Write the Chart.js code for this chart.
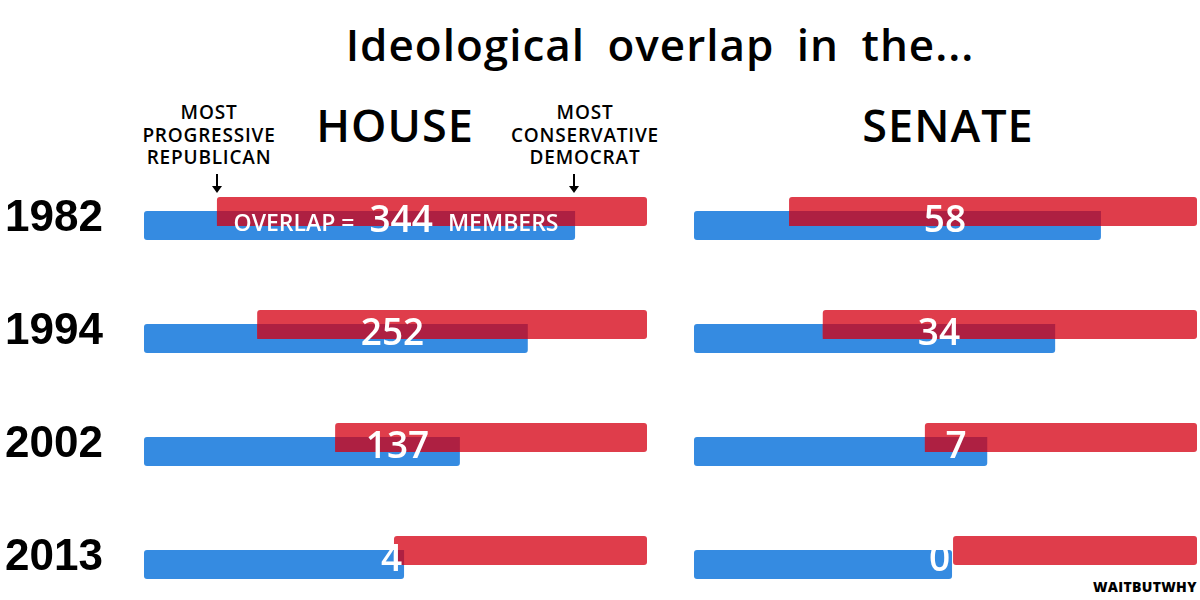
<!DOCTYPE html>
<html>
<head>
<meta charset="utf-8">
<script src="https://cdn.jsdelivr.net/npm/chart.js@4.4.1/dist/chart.umd.min.js"></script>
<style>
  html, body { margin: 0; padding: 0; background: #fff; overflow: hidden; }
  body { width: 1200px; height: 600px; position: relative; font-family: "Open Sans", sans-serif; color: #000; }
  canvas { position: absolute; top: 0; }
  .txt { position: absolute; white-space: nowrap; text-align: center; }
  #title { left: 0; width: 1320px; top: 14px; font-size: 44px; font-weight: 600; word-spacing: 10px; letter-spacing: 1px; }
  .panel { top: 94px; font-size: 45px; font-weight: 600; letter-spacing: 1px; }
  .note { font-size: 19px; line-height: 22.5px; font-weight: 600; letter-spacing: 0.8px; top: 101px; }
  #credit { left: 1093px; top: 577px; font-size: 14px; font-weight: 800; letter-spacing: 0.3px; }
  svg { position: absolute; left: 0; top: 0; }
</style>
</head>
<body>
<div class="txt" id="title">Ideological overlap in the...</div>
<div class="txt panel" style="left:295px;width:200px;">HOUSE</div>
<div class="txt panel" style="left:848px;width:200px;">SENATE</div>
<div class="txt note" style="left:109px;width:200px;">MOST<br>PROGRESSIVE<br>REPUBLICAN</div>
<div class="txt note" style="left:485px;width:200px;">MOST<br>CONSERVATIVE<br>DEMOCRAT</div>
<div class="txt" id="credit">WAITBUTWHY</div>
<svg width="1200" height="200">
  <g stroke="#000" stroke-width="2" fill="#000">
    <line x1="217" y1="174" x2="217" y2="188"/>
    <path d="M212 186 L222 186 L217 193 Z" stroke="none"/>
    <line x1="574" y1="174" x2="574" y2="188"/>
    <path d="M569 186 L579 186 L574 193 Z" stroke="none"/>
  </g>
</svg>
<canvas id="house" width="657" height="600" style="left:0px;"></canvas>
<canvas id="senate" width="516" height="600" style="left:684px;"></canvas>
<script>
const years = ["1982", "1994", "2002", "2013"];

// positions on a 0-100 ideology scale (left = most progressive, right = most conservative)
const houseDemEnd = [85.7, 76.3, 62.8, 51.7];
const houseRepStart = [14.5, 22.5, 38.0, 49.7];
const houseOverlap = [344, 252, 137, 4];

const senateDemEnd = [80.9, 71.8, 58.3, 51.3];
const senateRepStart = [18.9, 25.6, 45.9, 51.5];
const senateOverlap = [58, 34, 7, 0];

const RED = "#df3d4b";
const BLUE = "#358be1";
const DARK = "#ae2042";

function overlapPlugin(counts, firstLong) {
    return {
        id: "overlap",
        afterDatasetsDraw(chart) {
            const ctx = chart.ctx;
            const rep = chart.getDatasetMeta(0).data;
            const dem = chart.getDatasetMeta(1).data;
            ctx.save();
            rep.forEach((r, i) => {
                const b = dem[i];
                const rp = r.getProps(["x", "y", "base", "height"], true);
                const bp = b.getProps(["x", "y", "base", "height"], true);
                const left = Math.max(Math.min(rp.x, rp.base), Math.min(bp.x, bp.base));
                const right = Math.min(Math.max(rp.x, rp.base), Math.max(bp.x, bp.base));
                const top = Math.max(rp.y - rp.height / 2, bp.y - bp.height / 2);
                const bottom = Math.min(rp.y + rp.height / 2, bp.y + bp.height / 2);
                if (right > left) {
                    ctx.fillStyle = DARK;
                    ctx.fillRect(left, top, right - left, bottom - top);
                }

                // label
                const cy = (rp.y + bp.y) / 2 + 5;
                const blueEnd = Math.max(bp.x, bp.base);
                ctx.fillStyle = "#fff";
                ctx.textBaseline = "middle";
                const num = String(counts[i]);
                const bigFont = "600 37px 'Open Sans', sans-serif";
                const smallFont = "600 23px 'Open Sans', sans-serif";
                if (i === 0 && firstLong) {
                    const pre = "OVERLAP =", post = "MEMBERS", gap = 15;
                    ctx.font = smallFont;
                    const wPre = ctx.measureText(pre).width;
                    const wPost = ctx.measureText(post).width;
                    ctx.font = bigFont;
                    const wNum = ctx.measureText(num).width;
                    const total = wPre + wNum + wPost + gap * 2;
                    let x = (left + right) / 2 - total / 2;
                    ctx.textAlign = "left";
                    ctx.font = smallFont;
                    ctx.fillText(pre, x, cy + 1);
                    x += wPre + gap;
                    ctx.font = bigFont;
                    ctx.fillText(num, x, cy - 2);
                    x += wNum + gap;
                    ctx.font = smallFont;
                    ctx.fillText(post, x, cy + 1);
                } else {
                    ctx.font = bigFont;
                    const w = ctx.measureText(num).width;
                    let x = (left + right) / 2;
                    x = Math.min(x, blueEnd - w / 2 - 2);
                    ctx.textAlign = "center";
                    ctx.fillText(num, x, cy - 2);
                }
            });
            ctx.restore();
        }
    };
}

function makeChart(id, demEnd, repStart, counts, showYears, padLeft, padRight) {
    const ctx = document.getElementById(id).getContext("2d");
    return new Chart(ctx, {
        type: "bar",
        data: {
            labels: years,
            datasets: [
                {
                    label: "Republicans",
                    data: repStart.map(v => [v, 100]),
                    backgroundColor: RED,
                    borderRadius: 3,
                    borderSkipped: false,
                    clip: false
                },
                {
                    label: "Democrats",
                    data: demEnd.map(v => [0, v]),
                    backgroundColor: BLUE,
                    borderRadius: 3,
                    borderSkipped: false,
                    clip: false
                }
            ]
        },
        options: {
            indexAxis: "y",
            responsive: false,
            animation: false,
            categoryPercentage: 0.248,
            barPercentage: 2.07,
            layout: { padding: { left: padLeft, right: padRight, top: 218.5, bottom: 42.5 } },
            plugins: { legend: { display: false }, tooltip: { enabled: false } },
            scales: {
                x: { display: false, min: 0, max: 100 },
                y: {
                    display: showYears,
                    offset: false,
                    grid: { display: false },
                    border: { display: false },
                    afterFit: scale => { if (showYears) scale.width = 139; },
                    ticks: {
                        color: "#000",
                        crossAlign: "far",
                        padding: 0,
                        font: { family: "'Liberation Sans', Arial, sans-serif", size: 44, weight: "bold" }
                    }
                }
            }
        },
        plugins: [overlapPlugin(counts, showYears)]
    });
}

makeChart("house", houseDemEnd, houseRepStart, houseOverlap, true, 5, 10);
makeChart("senate", senateDemEnd, senateRepStart, senateOverlap, false, 10, 3);
</script>
</body>
</html>
